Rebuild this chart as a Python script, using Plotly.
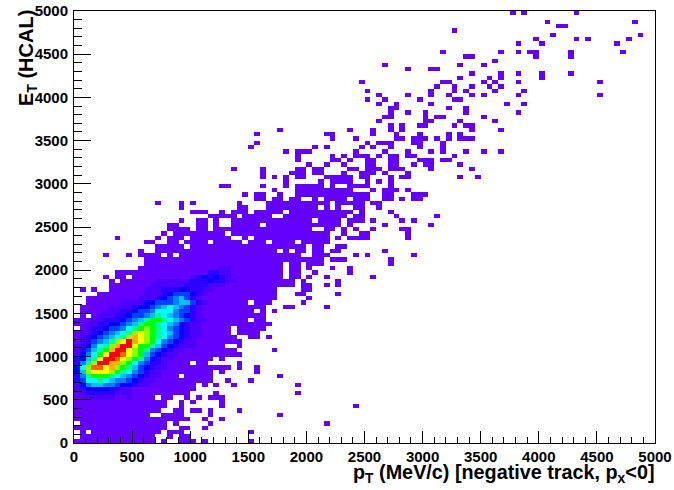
import plotly.graph_objects as go

BIN_WIDTH = 50
N_BINS = 100
X_TICKS = [0, 500, 1000, 1500, 2000, 2500, 3000, 3500, 4000, 4500, 5000]
Y_TICKS = X_TICKS

# occupied bins per E_T row (row 0 = lowest)
ROWS = [
 "0-13 15 18 19 20 22 30", "1-13 16 18 19", "1 3-14 16-18 30", "0-15 18 19 22", "1-15 17 23 43",
 "0-19 22 25", "0-12 15-18 23 35", "0-14 17 18 20 21 23 28", "0-15 18 25 48", "0-15 18 20 25",
 "0-13 15 16 19 21 23-25", "0-19 24 38", "0-20", "0-20 22 24 27 38", "0-23 26 30",
 "0-17 19-23 35", "0-23 25 31", "0-26 28 31", "0-19 21 22 28", "0-23 25",
 "0-28", "0-27 34", "0-25 28", "0-28", "0-27 30 31 33",
 "0-26 28-31", "1-26 28-32", "0-33", "0-29 31 32", "1 3-32",
 "1-30 32 34", "1-32 36 37 43", "2-29 31-33 39", "2-34 40", "4-34 38 39 45",
 "1 3 6-34 39 40", "6-37 39 40 43 45", "6 8-37 39 45", "5 7 8 10-35 37 38 40 43 51", "7-35 37 38 41 47",
 "11-35 37 38 40 44 47", "12-35 37 38 40-42 54", "12-42 44-46 54", "5 9 11-14 16 18-38 41-43 48 50 58",
 "11 14-34 36 38 39 41 42 44 45 53",
 "14-18 20-39 41 42 45 46", "12 13 16 17 19-22 24-28 30-32 34-37 39-43", "7 14 16-18 20-26 29 31-43 45 47-50 57",
 "15 17-25 27-43 46 49 50 57", "16-19 21 22 24-40 43 44 46 48 51 56 57",
 "16 17 21 22 24 27-31 33-45 47 53 61", "18 21 22 24 27-40 42-45 47-49 51 56 58", "23-27 29-33 36-46 48 49 55 62",
 "20-22 25 27-29 31-35 37-47 49 54", "18 28 29 33-41 43 45 48 49 52",
 "14 18 20 28 33-43 45-49 51 52", "31 32 34 35 37 38 41 43-46 48-50 53 54 56 58 59", "29 31 32 35 38-50 53 54 58-60",
 "34 38-47 51 53-55 57", "25 26 32 36 38-42 44 47-50 54",
 "36 42 44-47 50 52 54", "32 34 36 38 39 43-47 49 50 54 56 57 66 69", "32 37-39 41 42 46 49-51 53 57",
 "27 32 38 39 41 42 47 48 50-52 54-56 61 68", "40 43 46 50 51 54 55 58 60 61 66",
 "38 44 45 47 50 51 54 55 59-61 63 64", "38 44 46 48-50 52 54 55 57 58 65", "36 38-40 48 53 57 61 63 67 70 73",
 "30 41 43 49 51 54 59 63", "31 50 52-54 58 59 63",
 "44 48 55 56 58-60 62 64 66-68", "31 43 44 51 55 59 64 66", "35 47 51 54 56 68 73", "54 56 59 60 65 67 68", "52 60 61 66 72",
 "53 54 60 62 63 70", "54 57 60 67 76", "54 55 64 67", "52 55 61 74 77", "50 53 59 65 66",
 "52 57 61 64 68 70 76 90", "50 61 65 67 72 77", "62 65 68 71 73", "49 63 64 70 72 76 90", "66 71 73 80",
 "68 73 76 80 85", "57 61 62", "53 66 70", "72", "67 68 79 85",
 "63 73 76 78 79 85 94", "", "76 80 93", "79 86 88 95", "82 97",
 "65", "83 84", "81 96", "", "75 77 86",
]

# colour level per bin in the populated core, first char = x bin 0
CORE = {
 10: "1122222112", 11: "1233333222", 12: "2344443322",
 13: "246776654432211", 14: "35889876654322", 15: "369aaa987654322",
 16: "47bcccba9865322", 17: "48beecdba9754322", 18: "369bffddba865332",
 19: "3479cffecba964322", 20: "2468acffecba754322", 21: "23579adffcba9654322",
 22: "234689bdffcaa97543222", 23: "1235679bcfdcba8654322",
 24: "123456789bdcba98654322", 25: "1223456789bcba98754322", 26: "11233455689aba98654322",
 27: "112233445679aa98764322", 28: "1112233345679aa98765322",
 29: "1111222334556798765432", 30: "11111222334556888655321",
 31: "1111112222344567876532", 32: "11111111222244555677532",
 33: "1111111111122234567532", 34: "11111111111122234555432",
 35: "111111111111222333443322", 36: "11111111111112222223333222",
 37: "1111111111111122222233343322", 38: "111111111111111111112343432", 39: "111111111111111111111113322",
 40: "111111111111111111111111122",
}

LEVEL_COLOURS = ["#6400ff", "#4c00ff", "#2a00ff", "#0000ff", "#0040ff", "#0080ff", "#00c0ff",
                 "#00ffff", "#00ff90", "#00ff00", "#90ff00", "#ffff00", "#ffb000", "#ff6000", "#ff0000"]


def occupied(spec):
    out = []
    for part in spec.split():
        if "-" in part:
            a, b = part.split("-")
            out.extend(range(int(a), int(b) + 1))
        else:
            out.append(int(part))
    return out


z = [[None] * N_BINS for _ in range(N_BINS)]
for j, spec in enumerate(ROWS):
    for i in occupied(spec):
        z[j][i] = 1
for j, row in CORE.items():
    for i, ch in enumerate(row):
        level = int(ch, 16)
        if level > 1:
            z[j][i] = level

centres = [BIN_WIDTH * (k + 0.5) for k in range(N_BINS)]
n = len(LEVEL_COLOURS)
scale = []
for k, c in enumerate(LEVEL_COLOURS):
    scale += [[k / n, c], [(k + 1) / n, c]]

fig = go.Figure(go.Heatmap(x=centres, y=centres, z=z, zmin=0.5, zmax=n + 0.5,
                           colorscale=scale, showscale=False, hoverongaps=False))

FONT = "Liberation Sans"
axis = dict(range=[0, 5000], tickvals=X_TICKS, ticks="inside", tickcolor="#000000", tickwidth=1,
            showgrid=False, zeroline=False, showline=True, linecolor="#000000", linewidth=1, mirror=True,
            ticklabeloverflow="allow",
            tickfont=dict(family=FONT, size=15, color="#000000", weight="bold"))
fig.update_layout(
    width=674, height=490, autosize=False, paper_bgcolor="white", plot_bgcolor="white",
    margin=dict(l=73.5, r=19, t=11, b=47, pad=0, autoexpand=False),
    xaxis=dict(axis, ticklen=12, minor=dict(dtick=100, ticks="inside", ticklen=6, tickcolor="#000000", tickwidth=1)),
    yaxis=dict(axis, ticklen=17, ticklabelstandoff=2, minor=dict(dtick=100, ticks="inside", ticklen=8, tickcolor="#000000", tickwidth=1)),
    annotations=[
        dict(text="<b>p<sub>T</sub> (MeV/c) [negative track, p<sub>x</sub>&lt;0]</b>", xref="x", yref="y",
             x=5000, y=0, xanchor="right", yanchor="top", yshift=-16, xshift=1, showarrow=False,
             font=dict(family=FONT, size=19.8, color="#000000")),
        dict(text="<b>E<sub>T</sub> (HCAL)</b>", xref="x", yref="y", x=0, y=5000, xanchor="center", yanchor="top",
             xshift=-47, yshift=3, textangle=-90, showarrow=False,
             font=dict(family=FONT, size=20, color="#000000")),
    ],
)
fig.write_html("out.html", post_script="document.body.style.margin='0';", config=dict(displayModeBar=False))
